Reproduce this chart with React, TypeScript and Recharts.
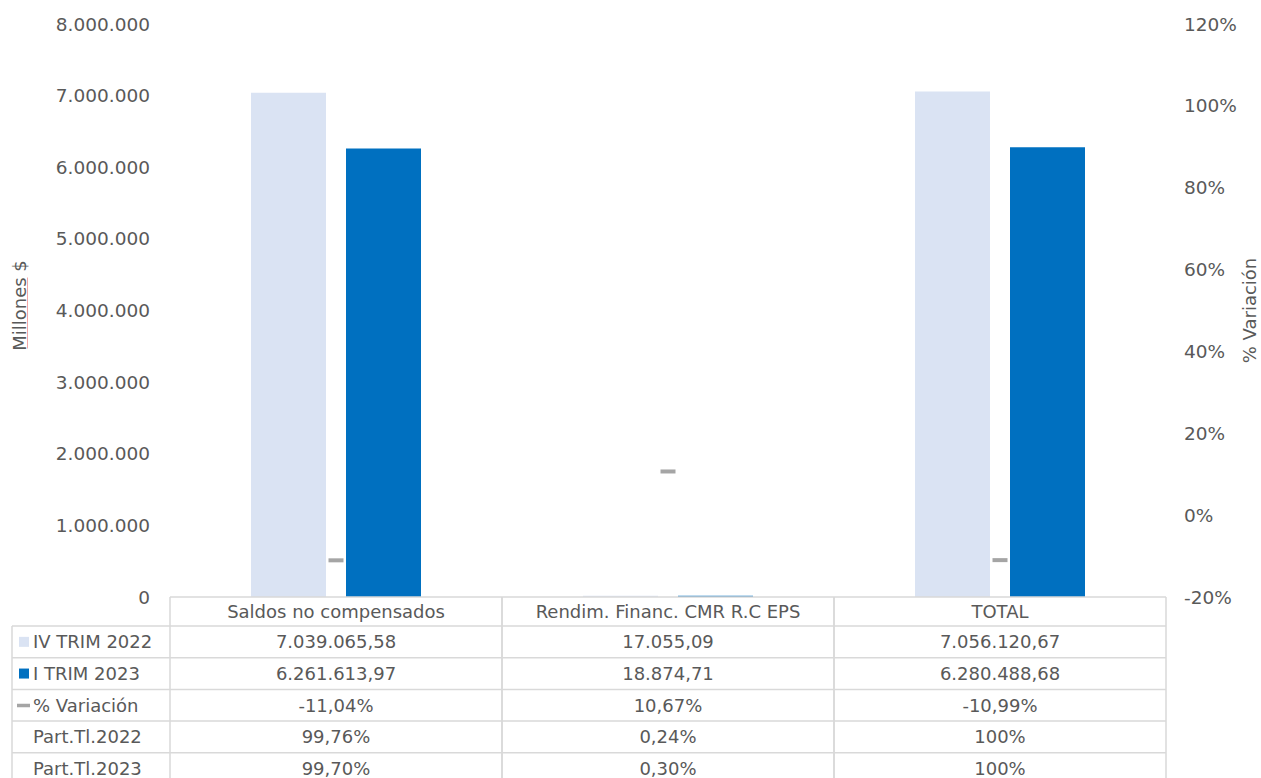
import React from 'react';
import { ComposedChart, Bar, Line, XAxis, YAxis, Label } from 'recharts';

// ---- data ----
const categories = ['Saldos no compensados', 'Rendim. Financ. CMR R.C EPS', 'TOTAL'];
const trim2022 = [7039065.58, 17055.09, 7056120.67];
const trim2023 = [6261613.97, 18874.71, 6280488.68];
const variacion = [-0.1104, 0.1067, -0.1099];
const part2022 = [0.9976, 0.0024, 1];
const part2023 = [0.997, 0.003, 1];
const leftTicks = [0, 1000000, 2000000, 3000000, 4000000, 5000000, 6000000, 7000000, 8000000];
const rightTicks = [-0.2, 0, 0.2, 0.4, 0.6, 0.8, 1.0, 1.2];
const seriesNames = ['IV TRIM 2022', 'I TRIM 2023', '% Variación'];
const partNames = ['Part.Tl.2022', 'Part.Tl.2023'];

const data = categories.map((c, i) => ({
  name: c,
  t22: trim2022[i],
  t23: trim2023[i],
  v: variacion[i],
}));

// ---- layout / style ----
const W = 1261;
const H = 778;
const PLOT_LEFT = 170;
const PLOT_RIGHT = 1166;
const PLOT_TOP = 24;
const PLOT_BOTTOM = 597;
const TABLE_LEFT = 12;
const HEADER_H = 29;
const ROW_H = 31.7;
const TEXT = '#595959';
const BORDER = '#D9D9D9';
const LIGHT = '#DAE3F3';
const DARK = '#0070C0';
const GRAY = '#A5A5A5';
const FONT = 'DejaVu Sans, Verdana, sans-serif';
const TABLE_FS = 18;
const TICK_FS = 18.5;

const groupThousands = (s: string) => s.replace(/\B(?=(\d{3})+(?!\d))/g, '.');
const fmtNum = (v: number, dec = 0) => {
  const neg = v < 0;
  const [i, d] = Math.abs(v).toFixed(dec).split('.');
  return (neg ? '-' : '') + groupThousands(i) + (d ? ',' + d : '');
};
const fmtPct = (v: number) => {
  const p = v * 100;
  if (Math.abs(p - Math.round(p)) < 1e-9) return Math.round(p) + '%';
  return fmtNum(p, 2) + '%';
};

const rowsValues = [
  trim2022.map((v) => fmtNum(v, 2)),
  trim2023.map((v) => fmtNum(v, 2)),
  variacion.map(fmtPct),
  part2022.map(fmtPct),
  part2023.map(fmtPct),
];
const rowLabels = [...seriesNames, ...partNames];

const DashDot = (props: any) => {
  const { cx, cy } = props;
  if (cx == null || cy == null) return null;
  return <rect x={cx - 7.5} y={cy - 2} width={15} height={4} fill={GRAY} />;
};

const LeftAxisLabel = (props: any) => {
  const vb = props.viewBox || { x: 0, y: PLOT_TOP, width: PLOT_LEFT, height: PLOT_BOTTOM - PLOT_TOP };
  const bx = vb.x + 26;
  const cy = vb.y + vb.height / 2 - 5;
  return (
    <g>
      <text
        x={bx}
        y={cy}
        transform={`rotate(-90, ${bx}, ${cy})`}
        textAnchor="middle"
        fill={TEXT}
        fontSize={18}
        fontFamily={FONT}
      >
        Millones $
      </text>
      <line x1={bx + 1.5} x2={bx + 1.5} y1={cy + 43} y2={cy - 28} stroke="#F4A6A6" strokeWidth={1} />
    </g>
  );
};

const TableTick = (props: any) => {
  const { x, index } = props;
  const top = PLOT_BOTTOM;
  const band = (PLOT_RIGHT - PLOT_LEFT) / categories.length;
  const left = x - band / 2;
  const right = x + band / 2;
  const bottom = H + 10;
  const rowTop = (k: number) => top + HEADER_H + k * ROW_H;
  const els: any[] = [];
  els.push(<line key="ht" x1={left} x2={right} y1={top} y2={top} stroke={BORDER} strokeWidth={1.5} />);
  els.push(<line key="vl" x1={left} x2={left} y1={top} y2={bottom} stroke={BORDER} strokeWidth={1.5} />);
  els.push(<line key="vr" x1={right} x2={right} y1={top} y2={bottom} stroke={BORDER} strokeWidth={1.5} />);
  els.push(
    <text key="hdr" x={x} y={top + HEADER_H / 2} dy="0.36em" textAnchor="middle" fill={TEXT} fontSize={TABLE_FS} fontFamily={FONT}>
      {categories[index]}
    </text>
  );
  rowsValues.forEach((row, k) => {
    const yt = rowTop(k);
    els.push(<line key={'h' + k} x1={left} x2={right} y1={yt} y2={yt} stroke={BORDER} strokeWidth={1.5} />);
    els.push(
      <text key={'t' + k} x={x} y={yt + ROW_H / 2} dy="0.36em" textAnchor="middle" fill={TEXT} fontSize={TABLE_FS} fontFamily={FONT}>
        {row[index]}
      </text>
    );
  });
  if (index === 0) {
    const l0 = TABLE_LEFT;
    els.push(<line key="lv" x1={l0} x2={l0} y1={rowTop(0)} y2={bottom} stroke={BORDER} strokeWidth={1.5} />);
    rowLabels.forEach((lab, k) => {
      const yt = rowTop(k);
      const ym = yt + ROW_H / 2;
      els.push(<line key={'lh' + k} x1={l0} x2={left} y1={yt} y2={yt} stroke={BORDER} strokeWidth={1.5} />);
      if (k === 0) els.push(<rect key="k0" x={19} y={ym - 5} width={10} height={10} fill={LIGHT} />);
      if (k === 1) els.push(<rect key="k1" x={19} y={ym - 5} width={10} height={10} fill={DARK} />);
      if (k === 2) els.push(<rect key="k2" x={17} y={ym - 1.5} width={13} height={3.5} fill={GRAY} />);
      els.push(
        <text key={'lt' + k} x={33} y={ym} dy="0.36em" textAnchor="start" fill={TEXT} fontSize={TABLE_FS} fontFamily={FONT}>
          {lab}
        </text>
      );
    });
  }
  return <g>{els}</g>;
};

export default function App() {
  return (
    <div style={{ position: 'absolute', left: 0, top: 0, width: W, height: H, background: '#fff' }}>
      <ComposedChart
        width={W}
        height={H}
        data={data}
        margin={{ top: PLOT_TOP, right: 0, bottom: 0, left: 0 }}
        barGap={20}
        barSize={75}
      >
        <XAxis
          dataKey="name"
          height={H - PLOT_BOTTOM}
          axisLine={false}
          tickLine={false}
          tickSize={0}
          tickMargin={0}
          interval={0}
          tick={<TableTick />}
        />
        <YAxis
          yAxisId="left"
          orientation="left"
          width={PLOT_LEFT}
          domain={[0, 8000000]}
          ticks={leftTicks}
          tickFormatter={(v: number) => fmtNum(v)}
          axisLine={false}
          tickLine={false}
          tickSize={6}
          tickMargin={14}
          tick={{ fill: TEXT, fontSize: TICK_FS, fontFamily: FONT }}
          interval={0}
        >
          <Label content={<LeftAxisLabel />} />
        </YAxis>
        <YAxis
          yAxisId="right"
          orientation="right"
          width={W - PLOT_RIGHT}
          domain={[-0.2, 1.2]}
          ticks={rightTicks}
          tickFormatter={(v: number) => Math.round(v * 100) + '%'}
          axisLine={false}
          tickLine={false}
          tickSize={6}
          tickMargin={12}
          tick={{ fill: TEXT, fontSize: TICK_FS, fontFamily: FONT }}
          interval={0}
        >
          <Label
            value="% Variación"
            angle={-90}
            position="insideRight"
            offset={11}
            style={{ textAnchor: 'middle', fill: TEXT, fontSize: 18, fontFamily: FONT }}
          />
        </YAxis>
        <Bar yAxisId="left" dataKey="t22" name={seriesNames[0]} fill={LIGHT} isAnimationActive={false} />
        <Bar yAxisId="left" dataKey="t23" name={seriesNames[1]} fill={DARK} isAnimationActive={false} />
        <Line
          yAxisId="right"
          dataKey="v"
          name={seriesNames[2]}
          stroke="none"
          dot={<DashDot />}
          activeDot={false}
          isAnimationActive={false}
        />
      </ComposedChart>
    </div>
  );
}
